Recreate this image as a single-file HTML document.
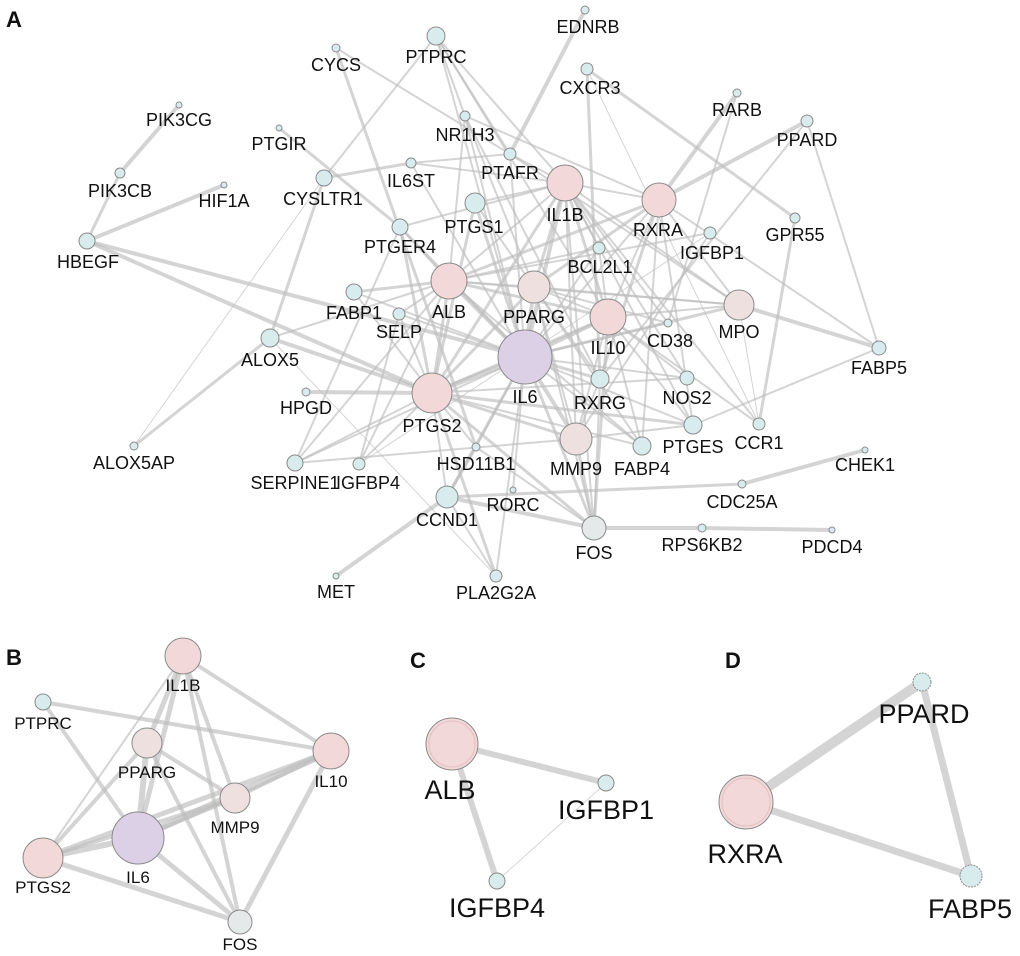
<!DOCTYPE html>
<html><head><meta charset="utf-8"><style>
html,body{margin:0;padding:0;background:#fff;}
svg{display:block;}
text{font-family:"Liberation Sans",Arial,sans-serif;fill:#111;text-anchor:middle;}
.e line{stroke:#bdbdbd;stroke-opacity:0.65;stroke-linecap:round;}
.p{fill:#f2d8d9;stroke:#8a8a8a;}
.q{fill:#efe0e0;stroke:#8a8a8a;}
.c{fill:#d8eced;stroke:#8a8a8a;}
.v{fill:#dcd0e6;stroke:#8a8a8a;}
.g{fill:#e6e9e9;stroke:#8a8a8a;}
.A text{font-size:18px;}
.B text{font-size:17px;}
.C text{font-size:27px;}
</style></head><body>
<svg width="1020" height="956" viewBox="0 0 1020 956" xmlns="http://www.w3.org/2000/svg">
<text x="14" y="27" style="font-size:22px;font-weight:bold">A</text>
<text x="14" y="665" style="font-size:22px;font-weight:bold">B</text>
<text x="418" y="668" style="font-size:22px;font-weight:bold">C</text>
<text x="733" y="668" style="font-size:22px;font-weight:bold">D</text>

<g class="e">
<line x1="525" y1="357" x2="432" y2="393" stroke-width="5"/>
<line x1="525" y1="357" x2="449" y2="281" stroke-width="4"/>
<line x1="525" y1="357" x2="534" y2="287" stroke-width="4"/>
<line x1="525" y1="357" x2="608" y2="317" stroke-width="4"/>
<line x1="525" y1="357" x2="565" y2="183" stroke-width="4"/>
<line x1="525" y1="357" x2="576" y2="439" stroke-width="4"/>
<line x1="525" y1="357" x2="594" y2="528" stroke-width="3"/>
<line x1="525" y1="357" x2="600" y2="379" stroke-width="3"/>
<line x1="525" y1="357" x2="475" y2="203" stroke-width="3"/>
<line x1="525" y1="357" x2="400" y2="227" stroke-width="3"/>
<line x1="525" y1="357" x2="510" y2="154" stroke-width="2"/>
<line x1="525" y1="357" x2="465" y2="116" stroke-width="2"/>
<line x1="525" y1="357" x2="668" y2="323" stroke-width="2"/>
<line x1="525" y1="357" x2="739" y2="305" stroke-width="3"/>
<line x1="525" y1="357" x2="687" y2="378" stroke-width="2"/>
<line x1="525" y1="357" x2="693" y2="425" stroke-width="2"/>
<line x1="525" y1="357" x2="642" y2="446" stroke-width="2"/>
<line x1="525" y1="357" x2="476" y2="447" stroke-width="2"/>
<line x1="525" y1="357" x2="513" y2="490" stroke-width="2"/>
<line x1="525" y1="357" x2="447" y2="497" stroke-width="3"/>
<line x1="525" y1="357" x2="399" y2="314" stroke-width="2"/>
<line x1="525" y1="357" x2="599" y2="248" stroke-width="2"/>
<line x1="525" y1="357" x2="659" y2="200" stroke-width="2"/>
<line x1="525" y1="357" x2="354" y2="292" stroke-width="2"/>
<line x1="525" y1="357" x2="87" y2="241" stroke-width="4"/>
<line x1="525" y1="357" x2="295" y2="463" stroke-width="2"/>
<line x1="525" y1="357" x2="436" y2="36" stroke-width="2"/>
<line x1="525" y1="357" x2="411" y2="163" stroke-width="2"/>
<line x1="525" y1="357" x2="496" y2="576" stroke-width="2"/>
<line x1="432" y1="393" x2="449" y2="281" stroke-width="3"/>
<line x1="432" y1="393" x2="534" y2="287" stroke-width="3"/>
<line x1="432" y1="393" x2="608" y2="317" stroke-width="3"/>
<line x1="432" y1="393" x2="565" y2="183" stroke-width="3"/>
<line x1="432" y1="393" x2="576" y2="439" stroke-width="3"/>
<line x1="432" y1="393" x2="594" y2="528" stroke-width="3"/>
<line x1="432" y1="393" x2="475" y2="203" stroke-width="3"/>
<line x1="432" y1="393" x2="400" y2="227" stroke-width="3"/>
<line x1="432" y1="393" x2="87" y2="241" stroke-width="4"/>
<line x1="432" y1="393" x2="270" y2="338" stroke-width="4"/>
<line x1="432" y1="393" x2="306" y2="392" stroke-width="4"/>
<line x1="432" y1="393" x2="295" y2="463" stroke-width="2"/>
<line x1="432" y1="393" x2="359" y2="464" stroke-width="2"/>
<line x1="432" y1="393" x2="447" y2="497" stroke-width="2"/>
<line x1="432" y1="393" x2="496" y2="576" stroke-width="3"/>
<line x1="432" y1="393" x2="476" y2="447" stroke-width="2"/>
<line x1="432" y1="393" x2="642" y2="446" stroke-width="2"/>
<line x1="432" y1="393" x2="693" y2="425" stroke-width="3"/>
<line x1="432" y1="393" x2="687" y2="378" stroke-width="2"/>
<line x1="432" y1="393" x2="399" y2="314" stroke-width="2"/>
<line x1="432" y1="393" x2="354" y2="292" stroke-width="2"/>
<line x1="449" y1="281" x2="565" y2="183" stroke-width="2"/>
<line x1="449" y1="281" x2="534" y2="287" stroke-width="2"/>
<line x1="449" y1="281" x2="608" y2="317" stroke-width="3"/>
<line x1="449" y1="281" x2="659" y2="200" stroke-width="3"/>
<line x1="449" y1="281" x2="354" y2="292" stroke-width="3"/>
<line x1="449" y1="281" x2="399" y2="314" stroke-width="2"/>
<line x1="449" y1="281" x2="710" y2="233" stroke-width="2"/>
<line x1="449" y1="281" x2="359" y2="464" stroke-width="2"/>
<line x1="449" y1="281" x2="739" y2="305" stroke-width="2"/>
<line x1="449" y1="281" x2="400" y2="227" stroke-width="2"/>
<line x1="449" y1="281" x2="270" y2="338" stroke-width="2"/>
<line x1="449" y1="281" x2="642" y2="446" stroke-width="2"/>
<line x1="449" y1="281" x2="465" y2="116" stroke-width="2"/>
<line x1="449" y1="281" x2="599" y2="248" stroke-width="2"/>
<line x1="449" y1="281" x2="295" y2="463" stroke-width="2"/>
<line x1="565" y1="183" x2="534" y2="287" stroke-width="3"/>
<line x1="565" y1="183" x2="608" y2="317" stroke-width="3"/>
<line x1="565" y1="183" x2="576" y2="439" stroke-width="2"/>
<line x1="565" y1="183" x2="594" y2="528" stroke-width="2"/>
<line x1="565" y1="183" x2="659" y2="200" stroke-width="2"/>
<line x1="565" y1="183" x2="739" y2="305" stroke-width="2"/>
<line x1="565" y1="183" x2="475" y2="203" stroke-width="2"/>
<line x1="565" y1="183" x2="510" y2="154" stroke-width="2"/>
<line x1="565" y1="183" x2="411" y2="163" stroke-width="2"/>
<line x1="565" y1="183" x2="400" y2="227" stroke-width="2"/>
<line x1="565" y1="183" x2="687" y2="378" stroke-width="2"/>
<line x1="565" y1="183" x2="668" y2="323" stroke-width="2"/>
<line x1="565" y1="183" x2="693" y2="425" stroke-width="2"/>
<line x1="565" y1="183" x2="759" y2="424" stroke-width="2"/>
<line x1="565" y1="183" x2="599" y2="248" stroke-width="2"/>
<line x1="565" y1="183" x2="436" y2="36" stroke-width="2"/>
<line x1="534" y1="287" x2="608" y2="317" stroke-width="2"/>
<line x1="534" y1="287" x2="659" y2="200" stroke-width="3"/>
<line x1="534" y1="287" x2="576" y2="439" stroke-width="2"/>
<line x1="534" y1="287" x2="739" y2="305" stroke-width="2"/>
<line x1="534" y1="287" x2="600" y2="379" stroke-width="2"/>
<line x1="534" y1="287" x2="642" y2="446" stroke-width="2"/>
<line x1="534" y1="287" x2="465" y2="116" stroke-width="2"/>
<line x1="534" y1="287" x2="475" y2="203" stroke-width="2"/>
<line x1="534" y1="287" x2="594" y2="528" stroke-width="2"/>
<line x1="534" y1="287" x2="668" y2="323" stroke-width="2"/>
<line x1="608" y1="317" x2="576" y2="439" stroke-width="2"/>
<line x1="608" y1="317" x2="594" y2="528" stroke-width="3"/>
<line x1="608" y1="317" x2="739" y2="305" stroke-width="2"/>
<line x1="608" y1="317" x2="659" y2="200" stroke-width="2"/>
<line x1="608" y1="317" x2="436" y2="36" stroke-width="2"/>
<line x1="608" y1="317" x2="759" y2="424" stroke-width="2"/>
<line x1="608" y1="317" x2="693" y2="425" stroke-width="2"/>
<line x1="608" y1="317" x2="687" y2="378" stroke-width="2"/>
<line x1="608" y1="317" x2="599" y2="248" stroke-width="2"/>
<line x1="608" y1="317" x2="642" y2="446" stroke-width="2"/>
<line x1="659" y1="200" x2="600" y2="379" stroke-width="3"/>
<line x1="659" y1="200" x2="807" y2="121" stroke-width="4"/>
<line x1="659" y1="200" x2="737" y2="93" stroke-width="4"/>
<line x1="659" y1="200" x2="879" y2="348" stroke-width="2"/>
<line x1="659" y1="200" x2="739" y2="305" stroke-width="2"/>
<line x1="659" y1="200" x2="465" y2="116" stroke-width="2"/>
<line x1="659" y1="200" x2="693" y2="425" stroke-width="2"/>
<line x1="659" y1="200" x2="642" y2="446" stroke-width="2"/>
<line x1="576" y1="439" x2="594" y2="528" stroke-width="3"/>
<line x1="576" y1="439" x2="295" y2="463" stroke-width="2"/>
<line x1="576" y1="439" x2="600" y2="379" stroke-width="2"/>
<line x1="576" y1="439" x2="693" y2="425" stroke-width="2"/>
<line x1="594" y1="528" x2="447" y2="497" stroke-width="4"/>
<line x1="594" y1="528" x2="702" y2="528" stroke-width="4"/>
<line x1="702" y1="528" x2="832" y2="530" stroke-width="4"/>
<line x1="594" y1="528" x2="600" y2="379" stroke-width="2"/>
<line x1="594" y1="528" x2="476" y2="447" stroke-width="2"/>
<line x1="742" y1="484" x2="865" y2="450" stroke-width="4"/>
<line x1="742" y1="484" x2="447" y2="497" stroke-width="3"/>
<line x1="336" y1="576" x2="447" y2="497" stroke-width="4"/>
<line x1="447" y1="497" x2="496" y2="576" stroke-width="2"/>
<line x1="447" y1="497" x2="476" y2="447" stroke-width="3"/>
<line x1="179" y1="105" x2="120" y2="173" stroke-width="4"/>
<line x1="120" y1="173" x2="87" y2="241" stroke-width="3"/>
<line x1="87" y1="241" x2="224" y2="185" stroke-width="4"/>
<line x1="336" y1="48" x2="510" y2="154" stroke-width="2"/>
<line x1="336" y1="48" x2="476" y2="447" stroke-width="3"/>
<line x1="279" y1="128" x2="400" y2="227" stroke-width="3"/>
<line x1="324" y1="178" x2="411" y2="163" stroke-width="3"/>
<line x1="324" y1="178" x2="436" y2="36" stroke-width="2"/>
<line x1="324" y1="178" x2="270" y2="338" stroke-width="3"/>
<line x1="324" y1="178" x2="134" y2="446" stroke-width="1"/>
<line x1="134" y1="446" x2="270" y2="338" stroke-width="3"/>
<line x1="270" y1="338" x2="496" y2="576" stroke-width="1"/>
<line x1="585" y1="10" x2="510" y2="154" stroke-width="4"/>
<line x1="587" y1="69" x2="600" y2="379" stroke-width="3"/>
<line x1="587" y1="69" x2="795" y2="218" stroke-width="3"/>
<line x1="587" y1="69" x2="759" y2="424" stroke-width="1"/>
<line x1="795" y1="218" x2="759" y2="424" stroke-width="3"/>
<line x1="807" y1="121" x2="879" y2="348" stroke-width="2"/>
<line x1="807" y1="121" x2="600" y2="379" stroke-width="2"/>
<line x1="737" y1="93" x2="668" y2="323" stroke-width="2"/>
<line x1="739" y1="305" x2="879" y2="348" stroke-width="4"/>
<line x1="739" y1="305" x2="759" y2="424" stroke-width="1"/>
<line x1="879" y1="348" x2="693" y2="425" stroke-width="2"/>
<line x1="436" y1="36" x2="465" y2="116" stroke-width="2"/>
<line x1="436" y1="36" x2="510" y2="154" stroke-width="2"/>
<line x1="465" y1="116" x2="600" y2="379" stroke-width="2"/>
<line x1="510" y1="154" x2="411" y2="163" stroke-width="2"/>
<line x1="510" y1="154" x2="739" y2="305" stroke-width="2"/>
<line x1="710" y1="233" x2="359" y2="464" stroke-width="1"/>
<line x1="359" y1="464" x2="399" y2="314" stroke-width="2"/>
<line x1="295" y1="463" x2="400" y2="227" stroke-width="2"/>
<line x1="710" y1="233" x2="576" y2="439" stroke-width="2"/>
</g>

<g class="A">
<circle class="c" cx="585" cy="10" r="4"/><text x="588" y="33">EDNRB</text>
<circle class="c" cx="436" cy="36" r="9"/><text x="436" y="63">PTPRC</text>
<circle class="c" cx="336" cy="48" r="4"/><text x="336" y="71">CYCS</text>
<circle class="c" cx="587" cy="69" r="6"/><text x="590" y="94">CXCR3</text>
<circle class="c" cx="737" cy="93" r="4"/><text x="737" y="116">RARB</text>
<circle class="c" cx="179" cy="105" r="3"/><text x="179" y="126">PIK3CG</text>
<circle class="c" cx="465" cy="116" r="5"/><text x="465" y="141">NR1H3</text>
<circle class="c" cx="807" cy="121" r="6"/><text x="807" y="146">PPARD</text>
<circle class="c" cx="279" cy="128" r="3"/><text x="279" y="150">PTGIR</text>
<circle class="c" cx="510" cy="154" r="6"/><text x="510" y="179">PTAFR</text>
<circle class="c" cx="411" cy="163" r="5"/><text x="411" y="187">IL6ST</text>
<circle class="p" cx="565" cy="183" r="18"/><text x="565" y="221">IL1B</text>
<circle class="c" cx="120" cy="173" r="5"/><text x="120" y="197">PIK3CB</text>
<circle class="c" cx="224" cy="185" r="3"/><text x="224" y="207">HIF1A</text>
<circle class="c" cx="324" cy="178" r="8"/><text x="323" y="205">CYSLTR1</text>
<circle class="p" cx="659" cy="200" r="17"/><text x="658" y="236">RXRA</text>
<circle class="c" cx="475" cy="203" r="10"/><text x="474" y="233">PTGS1</text>
<circle class="c" cx="795" cy="218" r="5"/><text x="795" y="241">GPR55</text>
<circle class="c" cx="710" cy="233" r="6"/><text x="712" y="259">IGFBP1</text>
<circle class="c" cx="400" cy="227" r="8"/><text x="400" y="253">PTGER4</text>
<circle class="c" cx="87" cy="241" r="8"/><text x="88" y="268">HBEGF</text>
<circle class="c" cx="599" cy="248" r="6"/><text x="600" y="273">BCL2L1</text>
<circle class="p" cx="449" cy="281" r="18"/><text x="449" y="318">ALB</text>
<circle class="q" cx="534" cy="287" r="16"/><text x="534" y="323">PPARG</text>
<circle class="c" cx="354" cy="292" r="8"/><text x="354" y="319">FABP1</text>
<circle class="c" cx="399" cy="314" r="6"/><text x="399" y="338">SELP</text>
<circle class="p" cx="608" cy="317" r="18"/><text x="608" y="354">IL10</text>
<circle class="c" cx="668" cy="323" r="4"/><text x="670" y="347">CD38</text>
<circle class="q" cx="739" cy="305" r="15"/><text x="739" y="338">MPO</text>
<circle class="c" cx="879" cy="348" r="7"/><text x="879" y="374">FABP5</text>
<circle class="c" cx="270" cy="338" r="9"/><text x="270" y="366">ALOX5</text>
<circle class="v" cx="525" cy="357" r="27"/><text x="525" y="403">IL6</text>
<circle class="c" cx="600" cy="379" r="9"/><text x="600" y="409">RXRG</text>
<circle class="c" cx="687" cy="378" r="7"/><text x="687" y="404">NOS2</text>
<circle class="c" cx="306" cy="392" r="4"/><text x="306" y="414">HPGD</text>
<circle class="p" cx="432" cy="393" r="20"/><text x="432" y="432">PTGS2</text>
<circle class="c" cx="693" cy="425" r="9"/><text x="693" y="453">PTGES</text>
<circle class="c" cx="759" cy="424" r="6"/><text x="759" y="449">CCR1</text>
<circle class="q" cx="576" cy="439" r="16"/><text x="576" y="475">MMP9</text>
<circle class="c" cx="642" cy="446" r="9"/><text x="642" y="475">FABP4</text>
<circle class="c" cx="134" cy="446" r="4"/><text x="134" y="469">ALOX5AP</text>
<circle class="c" cx="476" cy="447" r="4"/><text x="476" y="470">HSD11B1</text>
<circle class="c" cx="865" cy="450" r="3"/><text x="865" y="471">CHEK1</text>
<circle class="c" cx="295" cy="463" r="8"/><text x="295" y="489">SERPINE1</text>
<circle class="c" cx="359" cy="464" r="6"/><text x="368" y="489">IGFBP4</text>
<circle class="c" cx="742" cy="484" r="4"/><text x="742" y="508">CDC25A</text>
<circle class="c" cx="513" cy="490" r="3"/><text x="513" y="511">RORC</text>
<circle class="c" cx="447" cy="497" r="11"/><text x="447" y="526">CCND1</text>
<circle class="g" cx="594" cy="528" r="12"/><text x="594" y="559">FOS</text>
<circle class="c" cx="702" cy="528" r="4"/><text x="702" y="551">RPS6KB2</text>
<circle class="c" cx="832" cy="530" r="3"/><text x="832" y="553">PDCD4</text>
<circle class="c" cx="336" cy="576" r="3"/><text x="336" y="598">MET</text>
<circle class="c" cx="496" cy="576" r="6"/><text x="496" y="599">PLA2G2A</text>
</g>

<g class="e">
<line x1="43" y1="702" x2="331" y2="751" stroke-width="4"/>
<line x1="43" y1="702" x2="138" y2="838" stroke-width="4"/>
<line x1="183" y1="656" x2="331" y2="751" stroke-width="4"/>
<line x1="183" y1="656" x2="147" y2="743" stroke-width="5"/>
<line x1="183" y1="656" x2="138" y2="838" stroke-width="5"/>
<line x1="183" y1="656" x2="235" y2="798" stroke-width="4"/>
<line x1="183" y1="656" x2="240" y2="922" stroke-width="4"/>
<line x1="183" y1="656" x2="43" y2="858" stroke-width="2"/>
<line x1="147" y1="743" x2="235" y2="798" stroke-width="4"/>
<line x1="147" y1="743" x2="138" y2="838" stroke-width="6"/>
<line x1="147" y1="743" x2="43" y2="858" stroke-width="4"/>
<line x1="147" y1="743" x2="240" y2="922" stroke-width="4"/>
<line x1="331" y1="751" x2="138" y2="838" stroke-width="7"/>
<line x1="331" y1="751" x2="235" y2="798" stroke-width="4"/>
<line x1="331" y1="751" x2="43" y2="858" stroke-width="5"/>
<line x1="331" y1="751" x2="240" y2="922" stroke-width="5"/>
<line x1="235" y1="798" x2="138" y2="838" stroke-width="4"/>
<line x1="235" y1="798" x2="43" y2="858" stroke-width="4"/>
<line x1="138" y1="838" x2="43" y2="858" stroke-width="6"/>
<line x1="138" y1="838" x2="240" y2="922" stroke-width="5"/>
<line x1="43" y1="858" x2="240" y2="922" stroke-width="5"/>
</g>
<g class="B">
<circle class="p" cx="183" cy="656" r="18"/><text x="183" y="691">IL1B</text>
<circle class="c" cx="43" cy="702" r="8"/><text x="43" y="729">PTPRC</text>
<circle class="q" cx="147" cy="743" r="15"/><text x="147" y="778">PPARG</text>
<circle class="p" cx="331" cy="751" r="18"/><text x="331" y="787">IL10</text>
<circle class="q" cx="235" cy="798" r="15"/><text x="235" y="833">MMP9</text>
<circle class="v" cx="138" cy="838" r="26"/><text x="138" y="883">IL6</text>
<circle class="p" cx="43" cy="858" r="20"/><text x="43" y="893">PTGS2</text>
<circle class="g" cx="240" cy="922" r="12"/><text x="240" y="950">FOS</text>
</g>

<g class="e">
<line x1="452" y1="744" x2="606" y2="783" stroke-width="6"/>
<line x1="452" y1="744" x2="497" y2="881" stroke-width="6"/>
<line x1="606" y1="783" x2="497" y2="881" stroke-width="1"/>
<line x1="746" y1="802" x2="922" y2="682" stroke-width="10"/>
<line x1="746" y1="802" x2="971" y2="876" stroke-width="7"/>
<line x1="922" y1="682" x2="971" y2="876" stroke-width="7"/>
</g>
<g class="C">
<circle class="p" cx="452" cy="744" r="26"/><circle cx="452" cy="744" r="23" fill="none" stroke="#e3c0c2"/><text x="450" y="799">ALB</text>
<circle class="c" cx="606" cy="783" r="8"/><text x="606" y="819">IGFBP1</text>
<circle class="c" cx="497" cy="881" r="8"/><text x="497" y="917">IGFBP4</text>
<circle class="p" cx="746" cy="802" r="27"/><circle cx="746" cy="802" r="24" fill="none" stroke="#e3c0c2"/><text x="745" y="863">RXRA</text>
<circle class="c" cx="922" cy="682" r="9" stroke-dasharray="2 1"/><text x="924" y="723">PPARD</text>
<circle class="c" cx="971" cy="876" r="11" stroke-dasharray="2 1"/><text x="970" y="918">FABP5</text>
</g>
</svg>
</body></html>
